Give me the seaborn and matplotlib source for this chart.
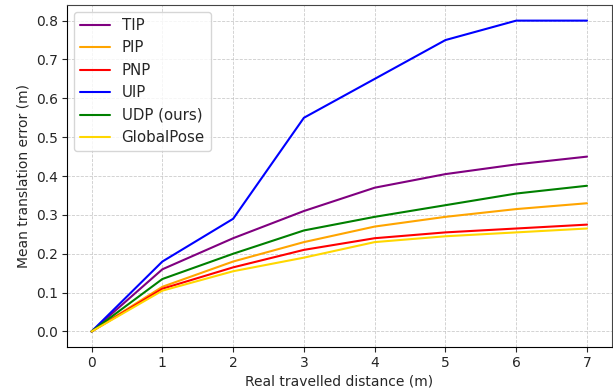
import matplotlib
matplotlib.use("Agg")
import matplotlib.pyplot as plt
import seaborn as sns
import pandas as pd

distance = [0, 1, 2, 3, 4, 5, 6, 7]
tip = [0, 0.16, 0.24, 0.31, 0.37, 0.405, 0.43, 0.45]
pip = [0, 0.115, 0.18, 0.23, 0.27, 0.295, 0.315, 0.33]
pnp = [0, 0.11, 0.165, 0.21, 0.24, 0.255, 0.265, 0.275]
uip = [0, 0.18, 0.29, 0.55, 0.65, 0.75, 0.80, 0.80]
udp = [0, 0.135, 0.20, 0.26, 0.295, 0.325, 0.355, 0.375]
globalpose = [0, 0.105, 0.155, 0.19, 0.23, 0.245, 0.255, 0.265]

methods = ["TIP", "PIP", "PNP", "UIP", "UDP (ours)", "GlobalPose"]
series = [tip, pip, pnp, uip, udp, globalpose]
colors = ["purple", "orange", "red", "blue", "green", "gold"]

rows = []
for m, vals in zip(methods, series):
    for d, v in zip(distance, vals):
        rows.append({"distance": d, "error": v, "method": m})
df = pd.DataFrame(rows)

sns.set_style("ticks")
plt.rcParams["font.family"] = ["DejaVu Sans"]

fig, ax = plt.subplots(figsize=(6.13, 3.91), dpi=100)
sns.lineplot(data=df, x="distance", y="error", hue="method", hue_order=methods,
             palette=dict(zip(methods, colors)), linewidth=1.5, ax=ax)

ax.grid(True, linestyle="--", color="#c0c0c0", linewidth=0.6, alpha=0.8)
ax.set_xlabel("Real travelled distance (m)", fontsize=10, labelpad=3)
ax.set_ylabel("Mean translation error (m)", fontsize=10, labelpad=4)
ax.set_xticks(distance)
ax.set_yticks([0.0, 0.1, 0.2, 0.3, 0.4, 0.5, 0.6, 0.7, 0.8])
ax.set_xlim(-0.35, 7.35)
ax.set_ylim(-0.04, 0.84)
ax.tick_params(labelsize=10, length=3.5, pad=3)
for s in ax.spines.values():
    s.set_color("#444444")
ax.spines["left"].set_color("black")
ax.spines["bottom"].set_color("black")
leg = ax.legend(loc="upper left", fontsize=10.8, frameon=True, borderaxespad=0.45)
leg.set_title(None)

fig.subplots_adjust(left=0.109, right=0.998, top=0.987, bottom=0.1125)
fig.savefig("out.png", dpi=100)
